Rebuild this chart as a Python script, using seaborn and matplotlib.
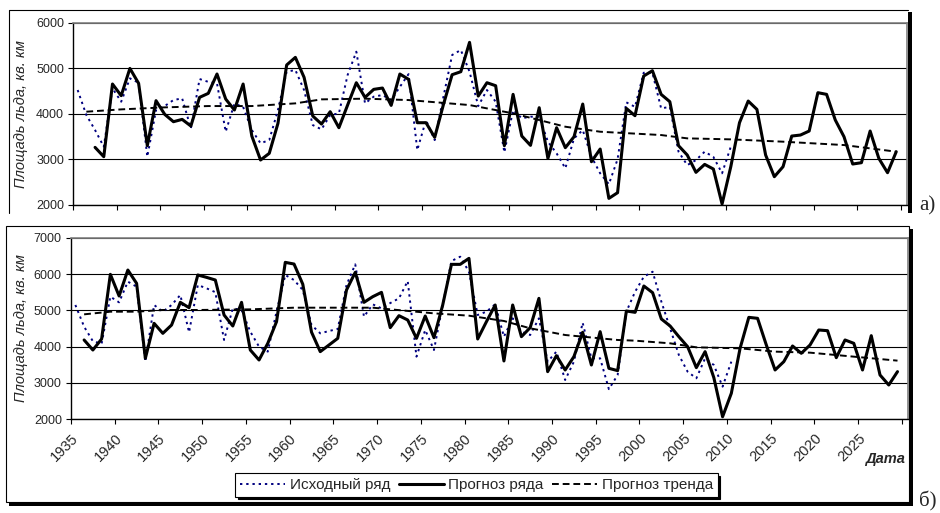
import numpy as np
import pandas as pd
import matplotlib
matplotlib.use('Agg')
import matplotlib.pyplot as plt
import seaborn as sns
from matplotlib.patches import Rectangle
from matplotlib.lines import Line2D

# ---------------- data ----------------
original_years = list(range(1935, 2011))

top_original = [4520, 3970, 3640, 3275, 4557, 4264, 4777, 4680, 3055, 4080,
                4168, 4300, 4337, 3678, 4762, 4700, 4667, 3604, 4220, 4150,
                3640, 3350, 3420, 4080, 4923, 4960, 4520, 3750, 3656, 3970,
                4007, 4850, 5363, 4227, 4375, 4410, 4300, 4590, 4870, 3200,
                3860, 3420, 4370, 5290, 5400, 4923, 4168, 4520, 4264, 3150,
                4080, 3900, 3934, 3934, 3385, 3128, 2800, 3458, 3640, 3055,
                2690, 2450, 3000, 4250, 4150, 4900, 4900, 4117, 4150, 3165,
                2870, 2980, 3165, 3050, 2690, 3275]

top_forecast_years = list(range(1937, 2030))
top_forecast = [3260, 3055, 4652, 4396, 4996, 4667, 3297, 4286, 3985, 3824,
                3875, 3729, 4359, 4447, 4872, 4322, 4081, 4652, 3509, 2982,
                3128, 3788, 5070, 5238, 4799, 3949, 3773, 4044, 3692, 4190,
                4681, 4359, 4535, 4564, 4183, 4872, 4755, 3802, 3802, 3480,
                4200, 4857, 4923, 5568, 4388, 4681, 4615, 3297, 4425, 3509,
                3304, 4132, 3018, 3692, 3253, 3494, 4212, 2945, 3223, 2139,
                2264, 4117, 3956, 4828, 4945, 4425, 4264, 3297, 3092, 2711,
                2886, 2784, 2015, 2835, 3802, 4278, 4095, 3092, 2615, 2835,
                3509, 3531, 3619, 4462, 4425, 3861, 3494, 2894, 2923, 3619,
                3018, 2703, 3165]

top_trend_years = [1936, 1940, 1945, 1950, 1955, 1960, 1963, 1968, 1973, 1980,
                   1985, 1991, 1995, 2002, 2005, 2010, 2016, 2023, 2026, 2029]
top_trend = [4044, 4095, 4139, 4168, 4168, 4227, 4315, 4330, 4300, 4190,
             4007, 3714, 3604, 3531, 3458, 3436, 3385, 3311, 3238, 3165]

bottom_original = [5147, 4550, 4150, 4080, 5376, 5220, 5790, 5651, 3587, 5147,
                   4963, 5147, 5422, 4395, 5697, 5606, 5500, 4184, 5055, 5010,
                   4413, 4000, 3863, 4963, 5973, 5835, 5560, 4596, 4367, 4431,
                   4487, 5697, 6266, 4826, 5165, 5055, 5200, 5330, 5807, 3725,
                   4459, 3908, 5147, 6358, 6477, 6064, 4872, 4963, 5165, 4275,
                   4780, 4413, 4321, 4780, 3587, 3863, 3083, 3587, 4660, 3679,
                   3679, 2830, 3220, 4963, 5514, 5927, 6064, 5239, 4505, 3771,
                   3312, 3128, 3679, 3495, 2899, 3587]

bottom_forecast_years = list(range(1936, 2030))
bottom_forecast = [4184, 3908, 4211, 5991, 5395, 6110, 5743, 3679, 4642, 4367,
                   4596, 5220, 5073, 5973, 5908, 5835, 4872, 4569, 5220, 3908,
                   3633, 4092, 4688, 6321, 6275, 5720, 4400, 3863, 4046, 4229,
                   5560, 6046, 5220, 5376, 5495, 4523, 4853, 4734, 4229, 4844,
                   4248, 5147, 6266, 6266, 6431, 4211, 4688, 5147, 3606, 5147,
                   4275, 4523, 5330, 3312, 3752, 3358, 3725, 4395, 3495, 4413,
                   3404, 3340, 4982, 4945, 5670, 5486, 4762, 4569, 4275, 4000,
                   3422, 3863, 3147, 2070, 2716, 3954, 4807, 4780, 4046, 3358,
                   3587, 4018, 3817, 4046, 4459, 4440, 3697, 4184, 4092, 3358,
                   4303, 3220, 2945, 3312]

bottom_trend_years = [1936, 1939, 1942, 1945, 1949, 1955, 1960, 1963, 1969, 1976,
                      1980, 1984, 1987, 1991, 1997, 1999, 2003, 2006, 2011, 2015,
                      2019, 2024, 2029]
bottom_trend = [4890, 4963, 4963, 5010, 5010, 5027, 5073, 5073, 5073, 4917,
                4853, 4707, 4505, 4321, 4184, 4165, 4092, 3982, 3954, 3863,
                3835, 3725, 3615]

tick_years = list(range(1935, 2031, 5))
tick_labels = [str(y) for y in range(1935, 2030, 5)] + ['']
series_names = ['Исходный ряд', 'Прогноз ряда', 'Прогноз тренда']
y_label = 'Площадь льда, кв. км'
x_label = 'Дата'
panel_tags = ['а)', 'б)']

# ---------------- style ----------------
sns.set_style('white')
plt.rcParams['font.family'] = ['Liberation Sans', 'DejaVu Sans']

W, H = 940, 513
fig = plt.figure(figsize=(W / 100, H / 100), dpi=100)


def fx(px):
    return px / W


def fy(py):
    return 1 - py / H


def ax_rect(l, t, r, b):
    return [l / W, 1 - b / H, (r - l) / W, (b - t) / H]


ax1 = fig.add_axes(ax_rect(73.3, 22.7, 906.7, 204.7))
ax2 = fig.add_axes(ax_rect(71, 237.7, 908, 419.3))

NAVY = '#000080'


def draw(ax, oy, ov, fyrs, fv, tyrs, tv, ymax):
    d_o = pd.DataFrame({'pos': np.array(oy) + 0.5, 'v': ov})
    d_f = pd.DataFrame({'pos': np.array(fyrs) + 0.5, 'v': fv})
    d_t = pd.DataFrame({'pos': np.array(tyrs) + 0.5, 'v': tv})
    sns.lineplot(data=d_o, x='pos', y='v', ax=ax, color=NAVY, lw=1.4,
                 linestyle=(0, (1.2, 2.0)), label=series_names[0], legend=False, zorder=3)
    sns.lineplot(data=d_f, x='pos', y='v', ax=ax, color='black', lw=2.2,
                 label=series_names[1], legend=False, zorder=4)
    sns.lineplot(data=d_t, x='pos', y='v', ax=ax, color='black', lw=1.4,
                 linestyle=(0, (3.5, 2.0)), label=series_names[2], legend=False, zorder=3)
    ax.set_xlim(1935, 2030.7)
    ax.set_ylim(2000, ymax)
    ax.set_yticks(list(range(2000, ymax + 1, 1000)))
    ax.set_xticks(tick_years)
    ax.yaxis.grid(True, color='black', lw=0.8)
    ax.xaxis.grid(False)
    ax.set_axisbelow(True)
    ax.tick_params(axis='both', direction='out', length=3.6, width=0.8,
                   color='black', labelsize=9, pad=3, left=True, bottom=True)
    for s in ['left', 'bottom']:
        ax.spines[s].set_color('black')
        ax.spines[s].set_linewidth(1.0)
    for s in ['top', 'right']:
        ax.spines[s].set_color('#808080')
        ax.spines[s].set_linewidth(1.2)
    ax.set_xlabel('')
    ax.set_ylabel(y_label, fontstyle='italic', fontsize=10.5)


draw(ax1, original_years, top_original, top_forecast_years, top_forecast,
     top_trend_years, top_trend, 6000)
draw(ax2, original_years, bottom_original, bottom_forecast_years, bottom_forecast,
     bottom_trend_years, bottom_trend, 7000)

ax1.set_xticklabels([])
ax2.set_xticklabels(tick_labels, rotation=45, ha='right', va='top',
                    rotation_mode='anchor', fontsize=10.5)
ax2.tick_params(axis='x', pad=5)
ax1.yaxis.set_label_coords((28 - 73.3) / 833.4, 0.5)
ax2.yaxis.set_label_coords((28 - 71) / 837, 0.5)

# ---------------- chart-area frames with shadows ----------------
fig.add_artist(Line2D([fx(9), fx(9), fx(908)], [fy(213), fy(10), fy(10)],
                      transform=fig.transFigure, color='black', lw=0.8))
fig.add_artist(Rectangle((fx(907.5), fy(213)), 4.5 / W, 201 / H,
                         transform=fig.transFigure, color='black', lw=0))

fig.add_artist(Rectangle((fx(6), fy(502)), 903 / W, 276 / H, transform=fig.transFigure,
                         fill=False, edgecolor='black', lw=0.8))
fig.add_artist(Rectangle((fx(909), fy(506)), 4 / W, 277 / H,
                         transform=fig.transFigure, color='black', lw=0))
fig.add_artist(Rectangle((fx(9), fy(506)), 904 / W, 4 / H,
                         transform=fig.transFigure, color='black', lw=0))

# ---------------- legend ----------------
handles = ax2.get_lines()[:3]
leg = fig.legend(handles, series_names, loc='center',
                 bbox_to_anchor=(fx(476.5), fy(485)), ncol=3, fontsize=11,
                 frameon=True, fancybox=False, edgecolor='black', framealpha=1,
                 shadow={'color': 'black', 'alpha': 1},
                 handlelength=2.95, handletextpad=0.3, columnspacing=0.55,
                 borderpad=0.3, borderaxespad=0)
leg.get_frame().set_linewidth(0.8)

fig.text(fx(885), fy(459), x_label, ha='center', va='center',
         fontstyle='italic', fontweight='bold', fontsize=10.5)
fig.text(fx(927), fy(206), panel_tags[0], ha='center', va='center',
         family=['Liberation Serif'], fontsize=15)
fig.text(fx(928), fy(501), panel_tags[1], ha='center', va='center',
         family=['Liberation Serif'], fontsize=15)

fig.savefig('out.png', dpi=100)
